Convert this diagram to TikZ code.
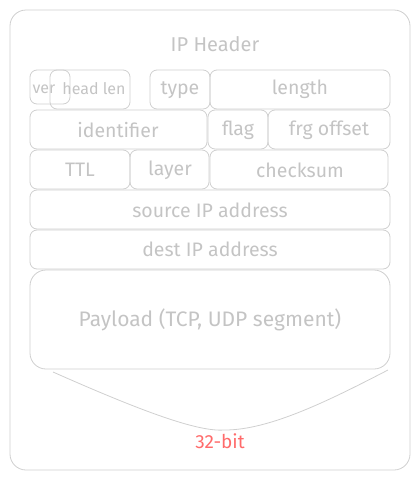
\documentclass[tikz,border=0pt]{standalone}
\usepackage{fontspec}
\setmainfont{Fira Sans}
\begin{document}
\begin{tikzpicture}[x=1pt,y=-1pt,
  fld/.style={draw=boxgray,line width=0.8pt,rounded corners=7pt},
  lbl/.style={text=txtgray,font=\fontsize{19.5}{22}\selectfont,inner sep=0pt},
]
\definecolor{boxgray}{HTML}{CFCFCF}
\definecolor{txtgray}{HTML}{C4C4C4}
\definecolor{redtxt}{HTML}{FF6B6B}
\useasboundingbox (0,0) rectangle (420,480);
% outer frame
\draw[fld,rounded corners=16pt] (10,10) rectangle (410,470);
\node[lbl,font=\fontsize{20}{22}\selectfont] (title) at (215,44) {IP Header};
% row 1
\draw[fld] (30,70) rectangle (70,104);
\draw[fld] (50,70) rectangle (130,109);
\node[lbl,font=\fontsize{16}{18}\selectfont] (ver) at (44,89) {ver};
\node[lbl,font=\fontsize{16}{18}\selectfont] (hlen) at (94,89) {head len};
\draw[fld] (150,70) rectangle (210,109);
\node[lbl] (type) at (180,90) {type};
\draw[fld] (210,70) rectangle (390,109);
\node[lbl] (length) at (300,89) {length};
% row 2
\draw[fld] (30,110) rectangle (207,149);
\node[lbl] (ident) at (118,130) {identifier};
\draw[fld] (208,110) rectangle (268,149);
\node[lbl] (flag) at (238,130) {flag};
\draw[fld] (268,110) rectangle (390,149);
\node[lbl] (frg) at (329,130) {frg offset};
% row 3
\draw[fld] (30,150) rectangle (130,189);
\node[lbl] (ttl) at (80,170) {TTL};
\draw[fld] (130,150) rectangle (209,189);
\node[lbl] (layer) at (170,170) {layer};
\draw[fld] (210,150) rectangle (388,189);
\node[lbl] (cksum) at (300,170) {checksum};
% row 4,5
\draw[fld] (30,190) rectangle (390,229);
\node[lbl] (src) at (210,210) {source IP address};
\draw[fld] (30,230) rectangle (390,269);
\node[lbl] (dst) at (210,249) {dest IP address};
% payload
\draw[fld,rounded corners=16pt] (30,270) rectangle (390,369);
\node[lbl,font=\fontsize{21}{24}\selectfont] (payload) at (210,320) {Payload (TCP, UDP segment)};
% brace curve
\coordinate (cl) at (53,372);
\coordinate (cr) at (388,370);
\draw[draw=boxgray,line width=0.8pt] (cl) .. controls (150,415) and (200,432) .. (225,430)
  .. controls (270,430) and (330,400) .. (cr);
\node[text=redtxt,font=\fontsize{19}{22}\selectfont,inner sep=0pt] (bits) at (220,441) {32-bit};
\end{tikzpicture}
\end{document}
